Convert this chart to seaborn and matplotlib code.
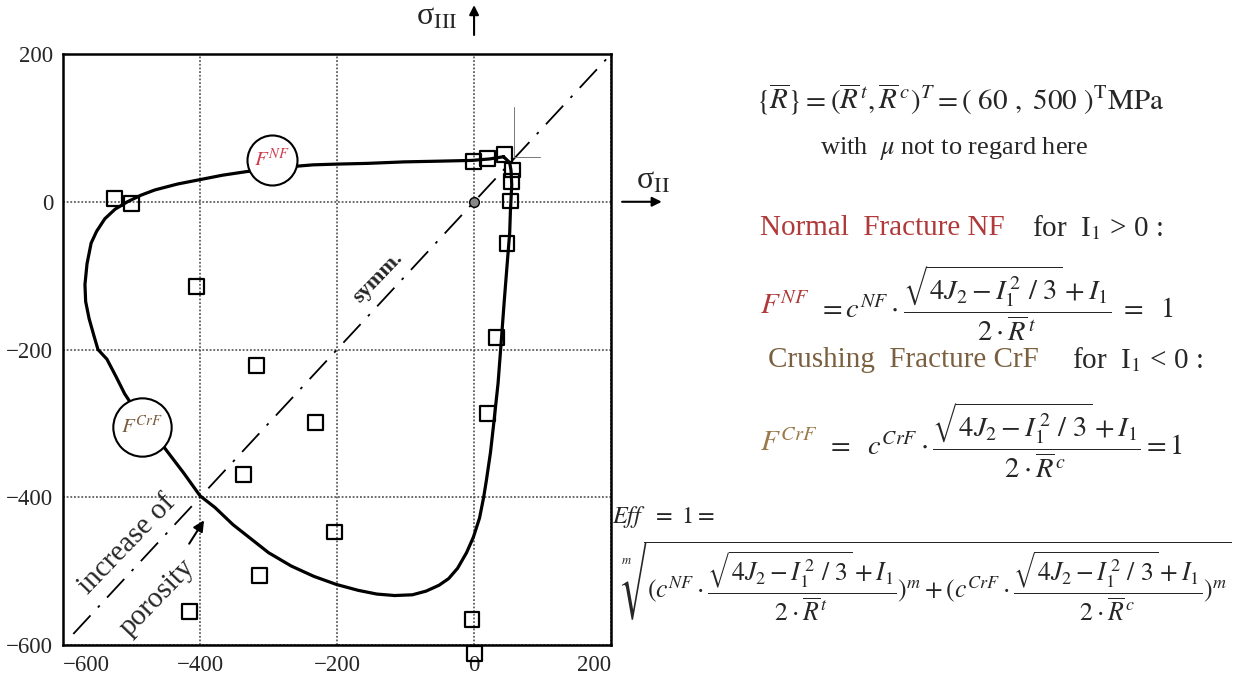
import matplotlib.pyplot as plt
import seaborn as sns
import pandas as pd

# failure curve (sigma_II, sigma_III) in MPa
curve_s2 = [43, 23, -3, -50, -102, -155, -200, -235, -261, -331, -367, -400, -433,
            -466, -486, -506, -524, -539, -551, -559, -565, -568, -567, -562, -555,
            -549, -536, -523, -510, -500, -447, -424, -400, -378, -352, -326, -300,
            -267, -234, -201, -169, -142, -116, -90, -70, -51, -37, -24, -11, -1,
            8, 14, 18, 24, 28, 35, 40, 44, 48, 52, 53, 55, 54, 52, 43]
curve_s3 = [61, 58, 56, 55, 54, 52, 51, 50, 48, 41, 36, 30, 24,
            16, 9, 0, -10, -23, -40, -56, -84, -112, -135, -158, -181,
            -200, -213, -236, -260, -274, -339, -367, -398, -414, -437, -456, -475,
            -493, -507, -518, -526, -531, -533, -532, -527, -519, -510, -496, -475, -454,
            -428, -400, -377, -339, -306, -246, -185, -135, -88, -42, -14, 23, 42, 53, 61]

# test points (open squares)
test_s2 = [-525, -500, -405, -318, -231, -336, -204, -313, -416, -3, 1,
           20, 33, 48, 53, 55, 56, 45, 19, -1]
test_s3 = [5, -2, -115, -222, -299, -369, -447, -506, -555, -566, -612,
           -287, -184, -56, 1, 27, 43, 64, 58, 55]

# symmetry line and corner marks
symm_s2 = [-585, 200]
symm_s3 = [-585, 200]
corner_s2 = [58, 58, 96]
corner_s3 = [128, 60, 60]

# labelled circles on the curve
circ_s2 = [-295, -485]
circ_s3 = [57, -305]
circ_txt = [r"$F^{NF}$", r"$F^{CrF}$"]
circ_col = ["#d03a4a", "#7a5a3a"]

ticks = [-600, -400, -200, 0, 200]
tick_labels = ["\u2212600", "\u2212400", "\u2212200", "0", "200"]

sns.set_style("white")
plt.rcParams["font.family"] = ["Liberation Serif", "DejaVu Serif"]
plt.rcParams["mathtext.fontset"] = "stix"

fig = plt.figure(figsize=(12.36, 6.83), dpi=100)
ax = fig.add_axes([0.051, 0.0556, 0.4434, 0.8653])

curve = pd.DataFrame({"s2": curve_s2, "s3": curve_s3})
tests = pd.DataFrame({"s2": test_s2, "s3": test_s3})

ax.set_xlim(-600, 200)
ax.set_ylim(-600, 200)
ax.set_xticks(ticks)
ax.set_yticks(ticks)
ax.set_xticklabels(tick_labels)
ax.set_yticklabels(tick_labels)
ax.tick_params(length=0, labelsize=16.5, pad=7)
xl = ax.get_xticklabels()
xl[0].set_horizontalalignment("left")
xl[-1].set_horizontalalignment("right")
ax.grid(True, color="#444444", linestyle=(0, (1.2, 1.2)), lw=1.1)
for s in ax.spines.values():
    s.set_linewidth(1.8)
    s.set_color("black")

ax.plot(symm_s2, symm_s3, color="black", lw=1.3, linestyle=(0, (14, 6, 1.5, 6)), zorder=2)
ax.plot(corner_s2, corner_s3, color="#777777", lw=0.7, zorder=2)
sns.lineplot(data=curve, x="s2", y="s3", sort=False, estimator=None, color="black",
             lw=2.3, ax=ax, zorder=3)
ax.plot([0], [0], "o", ms=7, mfc="#888888", mec="black", mew=1, zorder=4)
sns.scatterplot(data=tests, x="s2", y="s3", marker="s", s=115, facecolor="none",
                edgecolor="black", linewidth=1.6, ax=ax, zorder=5, clip_on=False)
ax.set_xlabel("")
ax.set_ylabel("")

ax.scatter(circ_s2[:1], circ_s3[:1], s=36 ** 2, facecolor="white", edgecolor="black",
           linewidth=1.5, zorder=6)
ax.scatter(circ_s2[1:], circ_s3[1:], s=42 ** 2, facecolor="white", edgecolor="black",
           linewidth=1.5, zorder=6)
for x, y, t, c in zip(circ_s2, circ_s3, circ_txt, circ_col):
    ax.text(x, y, t, color=c, fontsize=15, ha="center", va="center", zorder=7)

# texts inside the plot
ax.text(-140, -103, "symm.", rotation=46, fontsize=16, fontweight="bold",
        ha="center", va="center", zorder=7)
ax.text(-507, -464, "increase of", rotation=46, fontsize=21, ha="center",
        va="center", zorder=7)
ax.text(-462, -536, "porosity", rotation=46, fontsize=21, ha="center",
        va="center", zorder=7)
ax.annotate("", xy=(-392, -428), xytext=(-418, -466),
            arrowprops=dict(arrowstyle="-|>", color="black", lw=1.5, mutation_scale=16),
            zorder=7)

# principal stress axes
ax.annotate("", xy=(0, 270), xytext=(0, 222), annotation_clip=False,
            arrowprops=dict(arrowstyle="-|>", color="black", lw=1.5, mutation_scale=14))
ax.text(-55, 250, r"σ$_{\mathrm{III}}$", fontsize=23, ha="center", va="center",
        clip_on=False)
ax.annotate("", xy=(278, 0), xytext=(212, 0), annotation_clip=False,
            arrowprops=dict(arrowstyle="-|>", color="black", lw=1.5, mutation_scale=14))
ax.text(262, 28, r"σ$_{\mathrm{II}}$", fontsize=23, ha="center", va="center",
        clip_on=False)


# formulas on the right (figure pixel positions)
def fx(px):
    return px / 1236


def fy(py):
    return 1 - py / 683


red = "#b03a3a"
brown = "#7a6040"
tan = "#9a7a4a"
frac_nf = r"\dfrac{\sqrt{4J_2 - I_1^{\,2}\ /\ 3} + I_1}{2\cdot\overline{R}^{\,t}}"
frac_crf = r"\dfrac{\sqrt{4J_2 - I_1^{\,2}\ /\ 3} + I_1}{2\cdot\overline{R}^{\,c}}"

fig.text(fx(960), fy(99),
         r"$\left\{\overline{R}\right\} = (\overline{R}^{\,t},\overline{R}^{\,c})^T = (\ 60\ ,\ 500\ )^{\mathrm{T}}\mathrm{MPa}$",
         fontsize=21, ha="center", va="center")
fig.text(fx(954), fy(149), r"with  $\mu$ not to regard here", fontsize=19,
         ha="center", va="center")

fig.text(fx(760), fy(228), "Normal  Fracture NF", color=red, fontsize=21,
         ha="left", va="center")
fig.text(fx(1032), fy(228), r"for  I$_1$ > 0 :", fontsize=21, ha="left", va="center")
fig.text(fx(760), fy(306), r"$F^{NF}$", color=red, fontsize=21, ha="left", va="center")
fig.text(fx(818), fy(303), r"$= c^{NF}\cdot" + frac_nf + r"\ =\ \ 1$",
         fontsize=20.5, ha="left", va="center")

fig.text(fx(768), fy(360), "Crushing  Fracture CrF", color=brown, fontsize=21,
         ha="left", va="center")
fig.text(fx(1072), fy(360), r"for  I$_1$ < 0 :", fontsize=21, ha="left", va="center")
fig.text(fx(760), fy(443), r"$F^{CrF}$", color=tan, fontsize=21, ha="left", va="center")
fig.text(fx(826), fy(440), r"$=\ \ c^{CrF}\cdot" + frac_crf + r" = 1$",
         fontsize=20.5, ha="left", va="center")

fig.text(fx(612), fy(517), r"$Eff\ \ =\ 1 =$", fontsize=17.5, ha="left", va="center")
fig.text(fx(620), fy(582),
         r"$\sqrt[m]{(c^{NF}\cdot" + frac_nf + r")^m + (c^{CrF}\cdot" + frac_crf + r")^m}$",
         fontsize=18.5, ha="left", va="center")

fig.savefig("out.png", dpi=100)
